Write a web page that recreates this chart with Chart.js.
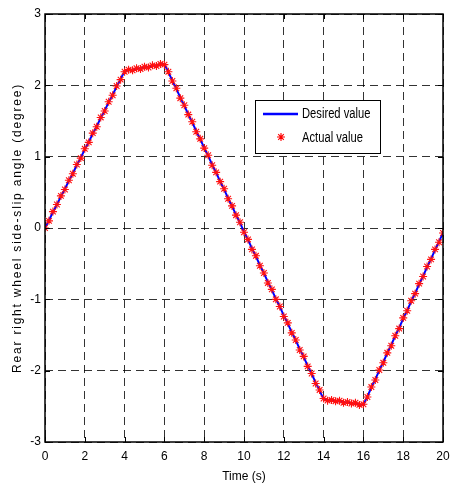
<!DOCTYPE html>
<html lang="en">
<head>
    <meta charset="UTF-8">
    <title>Rear right wheel side-slip angle</title>
    <script src="https://cdn.jsdelivr.net/npm/chart.js"></script>
    <style>
        html, body { margin: 0; padding: 0; background: #fff; }
        #wrap { width: 452px; height: 489px; }
    </style>
</head>
<body>
    <div id="wrap"><canvas id="slipChart" width="452" height="489"></canvas></div>
    <script>
        // desired value: piecewise linear reference
        const desiredTime = [0, 4, 6, 14, 16, 20];
        const desiredValue = [0, 2.2, 2.3, -2.4, -2.48, -0.07];

        // actual value: sampled every 0.2 s
        const actualTime = [
            0.0, 0.2, 0.4, 0.6, 0.8, 1.0, 1.2, 1.4, 1.6, 1.8,
            2.0, 2.2, 2.4, 2.6, 2.8, 3.0, 3.2, 3.4, 3.6, 3.8,
            4.0, 4.2, 4.4, 4.6, 4.8, 5.0, 5.2, 5.4, 5.6, 5.8,
            6.0, 6.2, 6.4, 6.6, 6.8, 7.0, 7.2, 7.4, 7.6, 7.8,
            8.0, 8.2, 8.4, 8.6, 8.8, 9.0, 9.2, 9.4, 9.6, 9.8,
            10.0, 10.2, 10.4, 10.6, 10.8, 11.0, 11.2, 11.4, 11.6, 11.8,
            12.0, 12.2, 12.4, 12.6, 12.8, 13.0, 13.2, 13.4, 13.6, 13.8,
            14.0, 14.2, 14.4, 14.6, 14.8, 15.0, 15.2, 15.4, 15.6, 15.8,
            16.0, 16.2, 16.4, 16.6, 16.8, 17.0, 17.2, 17.4, 17.6, 17.8,
            18.0, 18.2, 18.4, 18.6, 18.8, 19.0, 19.2, 19.4, 19.6, 19.8,
            20.0
        ];
        const actualValue = [
            0.00, 0.10, 0.23, 0.33, 0.45, 0.54, 0.67, 0.76, 0.89, 0.98,
            1.11, 1.20, 1.33, 1.42, 1.55, 1.64, 1.77, 1.86, 1.99, 2.08,
            2.19, 2.22, 2.21, 2.24, 2.23, 2.26, 2.25, 2.28, 2.27, 2.30,
            2.29, 2.19, 2.06, 1.96, 1.82, 1.72, 1.59, 1.49, 1.35, 1.25,
            1.12, 1.02, 0.88, 0.78, 0.65, 0.55, 0.41, 0.31, 0.18, 0.08,
            -0.06, -0.16, -0.30, -0.39, -0.53, -0.63, -0.77, -0.86, -1.00, -1.10,
            -1.24, -1.33, -1.47, -1.57, -1.71, -1.80, -1.94, -2.04, -2.18, -2.27,
            -2.39, -2.42, -2.41, -2.43, -2.42, -2.45, -2.44, -2.46, -2.45, -2.48,
            -2.47, -2.37, -2.23, -2.13, -1.99, -1.89, -1.75, -1.65, -1.51, -1.41,
            -1.26, -1.16, -1.02, -0.92, -0.78, -0.68, -0.54, -0.44, -0.30, -0.20,
            -0.07
        ];

        const seriesNames = ['Desired value', 'Actual value'];
        const xTitle = 'Time (s)';
        const yTitle = 'Rear right wheel side-slip angle (degree)';

        const FONT = "'Liberation Sans', Arial, sans-serif";
        Chart.defaults.font.family = FONT;
        Chart.defaults.font.size = 12;
        Chart.defaults.color = '#000';

        // frame, inward ticks, y title and legend box (matlab style)
        const matlabDecor = {
            id: 'matlabDecor',
            afterDraw(chart) {
                const ctx = chart.ctx;
                const a = chart.chartArea;
                const xs = chart.scales.x, ys = chart.scales.y;
                ctx.save();

                ctx.strokeStyle = '#000';
                ctx.lineWidth = 1;
                ctx.beginPath();
                xs.ticks.forEach(t => {
                    const px = Math.round(xs.getPixelForValue(t.value)) + 0.5;
                    ctx.moveTo(px, a.bottom); ctx.lineTo(px, a.bottom - 5);
                    ctx.moveTo(px, a.top); ctx.lineTo(px, a.top + 5);
                });
                ys.ticks.forEach(t => {
                    const py = Math.round(ys.getPixelForValue(t.value)) + 0.5;
                    ctx.moveTo(a.left, py); ctx.lineTo(a.left + 5, py);
                    ctx.moveTo(a.right, py); ctx.lineTo(a.right - 5, py);
                });
                ctx.stroke();

                ctx.lineWidth = 1.5;
                ctx.strokeRect(a.left, a.top, a.right - a.left, a.bottom - a.top);

                // y title with the wide letter spacing
                ctx.translate(18, (a.top + a.bottom) / 2);
                ctx.rotate(-Math.PI / 2);
                ctx.font = '12px ' + FONT;
                ctx.letterSpacing = '1.8px';
                ctx.textAlign = 'center';
                ctx.textBaseline = 'middle';
                ctx.fillStyle = '#000';
                ctx.fillText(yTitle, 0, 0);
                ctx.restore();

                // legend
                ctx.save();
                const lx = 255.5, ly = 100.5, lw = 125, lh = 53;
                ctx.fillStyle = '#fff';
                ctx.fillRect(lx, ly, lw, lh);
                ctx.strokeStyle = '#000';
                ctx.lineWidth = 1;
                ctx.strokeRect(lx, ly, lw, lh);

                ctx.strokeStyle = '#0000ff';
                ctx.lineWidth = 2.5;
                ctx.beginPath();
                ctx.moveTo(263, 114); ctx.lineTo(298, 114);
                ctx.stroke();

                ctx.strokeStyle = '#ff0000';
                ctx.lineWidth = 1.1;
                const sx = 281, sy = 137, r = 4, d = r * 0.7071;
                ctx.beginPath();
                ctx.moveTo(sx, sy - r); ctx.lineTo(sx, sy + r);
                ctx.moveTo(sx - r, sy); ctx.lineTo(sx + r, sy);
                ctx.moveTo(sx - d, sy - d); ctx.lineTo(sx + d, sy + d);
                ctx.moveTo(sx - d, sy + d); ctx.lineTo(sx + d, sy - d);
                ctx.stroke();

                // narrow-looking legend text
                ctx.fillStyle = '#000';
                ctx.font = '14px ' + FONT;
                ctx.textAlign = 'left';
                ctx.textBaseline = 'middle';
                ctx.translate(302, 0);
                ctx.scale(0.8, 1);
                ctx.fillText(seriesNames[0], 0, 114);
                ctx.fillText(seriesNames[1], 0, 138);
                ctx.restore();
            }
        };

        const ctx = document.getElementById('slipChart').getContext('2d');
        new Chart(ctx, {
            type: 'line',
            data: {
                datasets: [{
                    label: seriesNames[1],
                    data: actualTime.map((t, i) => ({ x: t, y: actualValue[i] })),
                    showLine: false,
                    pointStyle: 'star',
                    pointRadius: 4,
                    pointBorderColor: '#ff1010',
                    pointBackgroundColor: '#ff1010',
                    pointBorderWidth: 1.1,
                    order: 1
                }, {
                    label: seriesNames[0],
                    data: desiredTime.map((t, i) => ({ x: t, y: desiredValue[i] })),
                    borderColor: '#0000ff',
                    borderWidth: 2,
                    pointRadius: 0,
                    tension: 0,
                    fill: false,
                    order: 2
                }]
            },
            options: {
                responsive: false,
                animation: false,
                layout: { padding: { left: 0, right: 9, top: 14, bottom: 0 } },
                plugins: {
                    legend: { display: false },
                    tooltip: { enabled: false }
                },
                scales: {
                    x: {
                        type: 'linear',
                        min: 0,
                        max: 20,
                        ticks: { stepSize: 2, padding: 7, maxRotation: 0 },
                        grid: { color: 'rgba(0,0,0,0.8)', lineWidth: 1, drawTicks: false },
                        border: { display: false, dash: [8, 5] },
                        title: { display: true, text: xTitle, padding: { top: 1, bottom: 5 }, font: { size: 12 } },
                        afterFit(scale) {
                            scale.height = 47;
                            scale.paddingLeft = 0;
                            scale.paddingRight = 0;
                        }
                    },
                    y: {
                        min: -3,
                        max: 3,
                        ticks: { stepSize: 1, padding: 4 },
                        grid: { color: 'rgba(0,0,0,0.8)', lineWidth: 1, drawTicks: false },
                        border: { display: false, dash: [8, 5] },
                        afterFit(scale) { scale.width = 45; }
                    }
                }
            },
            plugins: [matlabDecor]
        });
    </script>
</body>
</html>
